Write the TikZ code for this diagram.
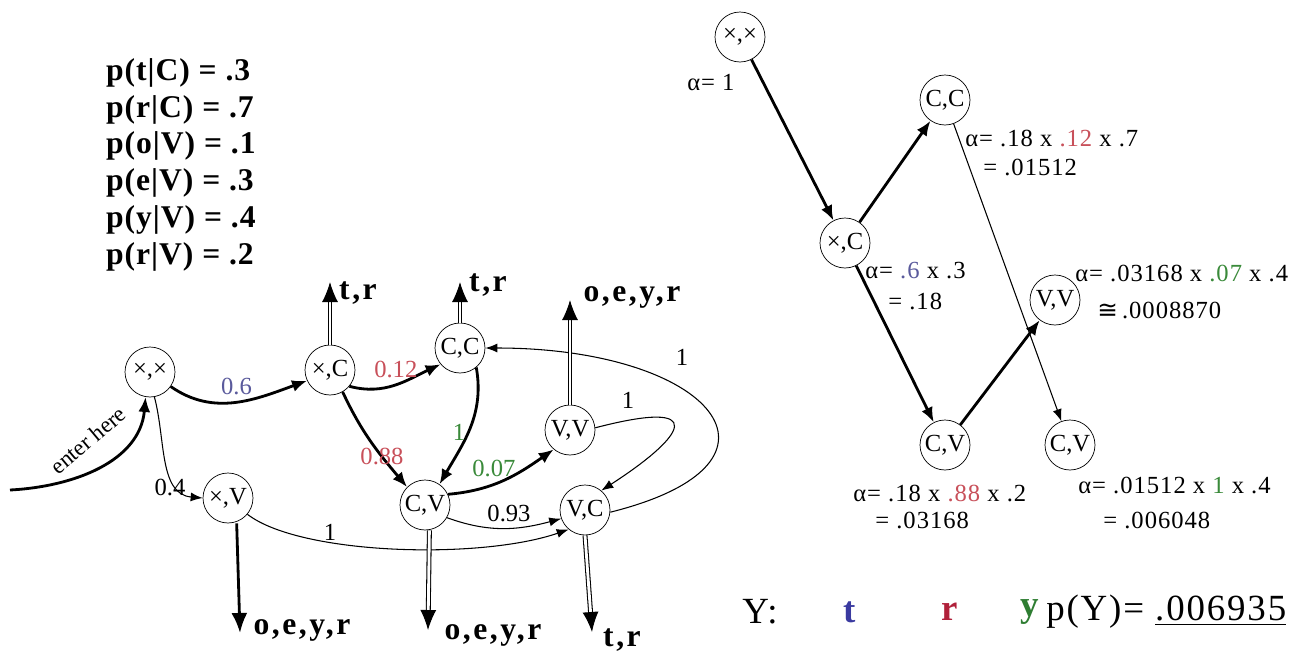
\documentclass[tikz,border=0pt]{standalone}
\usepackage{fontspec}
\setmainfont{Liberation Serif}
\newfontfamily\symfont{DejaVu Sans}
\usetikzlibrary{arrows.meta}
\definecolor{probBlue}{HTML}{5A5A9C}
\definecolor{probRed}{HTML}{C8505A}
\definecolor{probGreen}{HTML}{3A8A3A}
\definecolor{obsBlue}{HTML}{3A3AA0}
\definecolor{obsRed}{HTML}{B0203A}
\definecolor{obsGreen}{HTML}{2E7D32}
\tikzset{
  >={Latex[length=3mm,width=2.4mm]},
  hmmstate/.style={circle,draw,thin,minimum size=1cm,inner sep=0pt,font=\fontsize{14}{14}\selectfont},
  heavyarrow/.style={->,line width=1.6pt},
  lightarrow/.style={-{Latex[length=2.4mm,width=1.8mm]},semithick},
  emitarrow/.style={-{Latex[length=4mm,width=3.2mm]},double,double distance=1.6pt,semithick},
  emitsingle/.style={-{Latex[length=4mm,width=3.2mm]},line width=1.6pt},
  emitlabel/.style={font=\fontsize{18}{18}\selectfont\bfseries\addfontfeature{LetterSpace=8}},
  problabel/.style={font=\fontsize{14}{14}\selectfont},
  alphalabel/.style={font=\fontsize{14}{14}\selectfont\addfontfeature{LetterSpace=4},anchor=west,inner sep=0pt},
  obslabel/.style={font=\fontsize{21}{21}\selectfont\addfontfeature{LetterSpace=5}},
  obsletter/.style={font=\fontsize{21}{21}\selectfont\bfseries},
}
\begin{document}
\begin{tikzpicture}[x=0.02cm,y=-0.02cm]
  \useasboundingbox (0,0) rectangle (1306,653);

  % emission probabilities
  \node[font=\fontsize{18}{21}\selectfont\bfseries\addfontfeature{LetterSpace=3},align=left,anchor=north west] (emis) at (100,52)
    {p(t|C) = .3\\ p(r|C) = .7\\ p(o|V) = .1\\ p(e|V) = .3\\ p(y|V) = .4\\ p(r|V) = .2};

  % left: the model
  \node[hmmstate] (xx) at (150,372) {×,×};
  \node[hmmstate] (xc) at (330,370) {×,C};
  \node[hmmstate] (cc) at (460,348) {C,C};
  \node[hmmstate] (vv) at (570,430) {V,V};
  \node[hmmstate] (xv) at (228,498) {×,V};
  \node[hmmstate] (cv) at (425,505) {C,V};
  \node[hmmstate] (vc) at (585,510) {V,C};

  \coordinate (entry) at (10,490);
  \draw[heavyarrow] (entry) to[out=3,in=-95] (xx.-100);
  \node[rotate=40,font=\fontsize{13}{13}\selectfont] (enter) at (88,440) {enter here};

  \draw[heavyarrow] (xx.-35) to[out=-35,in=200] node[above,problabel,text=probBlue] {0.6} (xc.-155);
  \draw[lightarrow] (xx.-80) to[out=-75,in=175] (xv.west);
  \node[problabel] (p04) at (170,487) {0.4};
  \draw[heavyarrow] (xc.-40) to[out=-15,in=205] node[above,problabel,text=probRed] {0.12} (cc.-140);
  \draw[heavyarrow] (xc.-60) to[out=-65,in=130] (cv.135);
  \node[problabel,text=probRed] (p088) at (382,456) {0.88};
  \draw[heavyarrow] (cc.-50) to[out=-80,in=60] (cv.55);
  \node[problabel,text=probGreen] (p1) at (459,432) {1};
  \draw[heavyarrow] (cv.25) to[out=5,in=215] node[above,pos=0.4,problabel,text=probGreen] {0.07} (vv.-130);
  \draw[lightarrow] (cv.-30) to[out=-20,in=195] node[above,pos=0.55,problabel] {0.93} (vc.-160);
  \draw[lightarrow] (xv.-40) .. controls (300,555) and (480,560) .. (vc.-130);
  \node[problabel] (pxv) at (330,532) {1};
  \draw[lightarrow] (vv.5) .. controls +(115,-30) and +(85,-55) .. (vc.50);
  \node[problabel] (pvv) at (628,400) {1};
  \draw[lightarrow] (vc.-5) .. controls +(200,-50) and +(225,0) .. (cc.east);
  \node[problabel] (pvc) at (682,357) {1};

  % emitted symbols
  \coordinate (xcup) at (330,282);
  \coordinate (ccup) at (460,282);
  \coordinate (vvup) at (570,300);
  \coordinate (xvdn) at (240,633);
  \coordinate (cvdn) at (428,630);
  \coordinate (vcdn) at (592,632);
  \draw[emitarrow] (xc) -- (xcup);
  \draw[emitarrow] (cc) -- (ccup);
  \draw[emitarrow] (vv) -- (vvup);
  \draw[emitsingle] (xv.-70 |- xv.south) -- (xvdn);
  \draw[emitarrow] (cv.-80 |- cv.south) -- (cvdn);
  \draw[emitarrow] (vc.south) -- (vcdn);
  \node[emitlabel] (xcsym) at (358,293) {t,r};
  \node[emitlabel] (ccsym) at (488,285) {t,r};
  \node[emitlabel] (vvsym) at (632,297) {o,e,y,r};
  \node[emitlabel] (xvsym) at (302,630) {o,e,y,r};
  \node[emitlabel] (cvsym) at (493,635) {o,e,y,r};
  \node[emitlabel] (vcsym) at (622,640) {t,r};

  % right: forward pass on Y
  \node[hmmstate] (fxx) at (740,37) {×,×};
  \node[hmmstate] (fcc) at (945,100) {C,C};
  \node[hmmstate] (fxc) at (845,243) {×,C};
  \node[hmmstate] (fvv) at (1055,300) {V,V};
  \node[hmmstate] (fcv) at (945,445) {C,V};
  \node[hmmstate] (fcv2) at (1070,445) {C,V};

  \draw[heavyarrow] (fxx) -- (fxc);
  \draw[heavyarrow] (fxc) -- (fcc);
  \draw[heavyarrow] (fxc) -- (fcv);
  \draw[lightarrow] (fcc) -- (fcv2);
  \draw[heavyarrow] (fcv) -- (fvv);

  \node[alphalabel] (axx) at (687,82) {α= 1};
  \node[alphalabel] (acc) at (965,138) {α= .18 x \textcolor{probRed}{.12} x .7};
  \node[alphalabel] (acc2) at (983,167) {= .01512};
  \node[alphalabel] (axc) at (865,271) {α= \textcolor{probBlue}{.6} x .3};
  \node[alphalabel] (axc2) at (888,301) {= .18};
  \node[alphalabel] (avv) at (1075,273) {α= .03168 x \textcolor{probGreen}{.07} x .4};
  \node[alphalabel] (avv2) at (1097,310) {{\symfont ≅}\,.0008870};
  \node[alphalabel] (acv) at (853,493) {α= .18 x \textcolor{probRed}{.88} x .2};
  \node[alphalabel] (acv2) at (875,520) {= .03168};
  \node[alphalabel] (acvb) at (1078,485) {α= .01512 x \textcolor{probGreen}{1} x .4};
  \node[alphalabel] (acvb2) at (1103,520) {= .006048};

  % observed sequence
  \node[obslabel] (ylab) at (760,612) {Y:};
  \node[obsletter,text=obsBlue] (yt) at (850,612) {t};
  \node[obsletter,text=obsRed] (yr) at (950,612) {r};
  \node[obsletter,text=obsGreen] (yy) at (1030,612) {y};
  \node[obslabel,anchor=west,inner sep=0pt] (py) at (1046,612) {p(Y)= \underline{.006935}};
\end{tikzpicture}
\end{document}
